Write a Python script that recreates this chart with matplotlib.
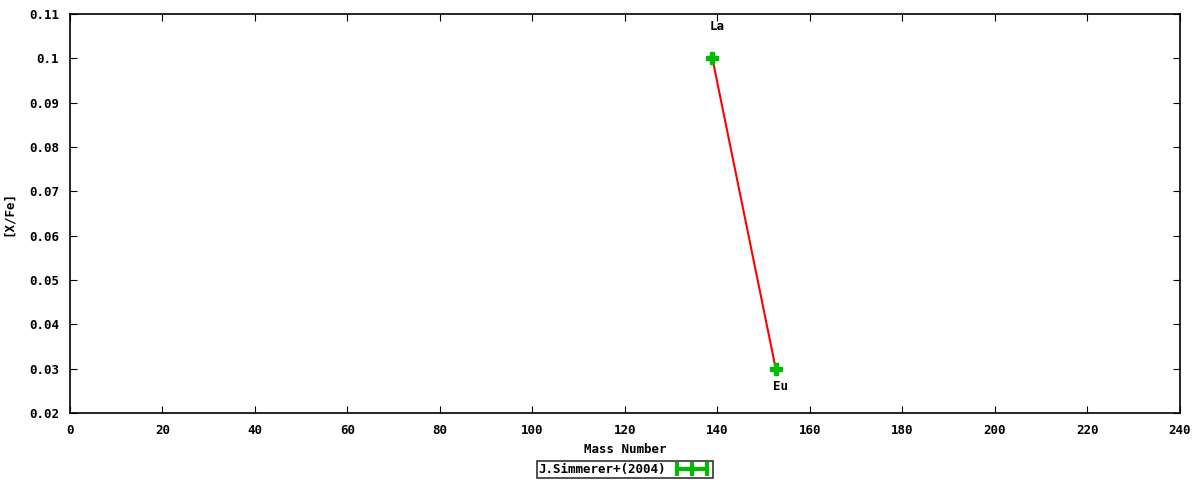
import matplotlib
matplotlib.use("Agg")
import matplotlib.pyplot as plt
from matplotlib.lines import Line2D

# data
elements = ["La", "Eu"]
mass = [138.9, 152.6]
xfe = [0.10, 0.03]
label_offset = [0.0072, -0.0041]
series_name = "J.Simmerer+(2004)"

fnt = 9
plt.rcParams["font.family"] = "DejaVu Sans Mono"
plt.rcParams["font.weight"] = "bold"

fig = plt.figure(figsize=(12, 4.8), dpi=100)
ax = fig.add_axes([0.0583, 0.1396, 0.925, 0.8312])

ax.plot(mass, xfe, color="red", lw=1.5, zorder=2)
ax.plot(mass, xfe, ls="none", marker="P", ms=9, color="#00bb00", mec="#00bb00", zorder=3)
for el, m, v, off in zip(elements, mass, xfe, label_offset):
    ax.text(m + 1.0, v + off, el, ha="center", va="center", fontsize=fnt, fontweight="bold")

ax.set_xlim(0, 240)
ax.set_ylim(0.02, 0.11)
ax.set_xticks(range(0, 241, 20))
yt = [0.02, 0.03, 0.04, 0.05, 0.06, 0.07, 0.08, 0.09, 0.1, 0.11]
ax.set_yticks(yt)
ax.set_yticklabels(["%g" % t for t in yt])
ax.tick_params(direction="in", top=True, right=True, length=5, labelsize=fnt, pad=8)
for lab in ax.get_xticklabels() + ax.get_yticklabels():
    lab.set_fontweight("bold")
for s in ax.spines.values():
    s.set_linewidth(1.2)

ax.set_xlabel("Mass Number", fontsize=fnt, fontweight="bold", labelpad=4)
ax.set_ylabel("[X/Fe]", fontsize=fnt, fontweight="bold", labelpad=10)

handle = Line2D([0], [0], color="#00bb00", lw=3, marker="|", ms=10, mew=3)
leg = ax.legend([handle], [series_name], loc="upper center", bbox_to_anchor=(0.5, -0.105),
                frameon=True, fancybox=False, fontsize=fnt, handlelength=3.0, numpoints=3,
                borderpad=0.15, handletextpad=0.6, markerfirst=False)
leg.get_frame().set_edgecolor("black")
leg.get_frame().set_linewidth(1.2)
for t in leg.get_texts():
    t.set_fontweight("bold")

fig.savefig("out.png", dpi=100)
